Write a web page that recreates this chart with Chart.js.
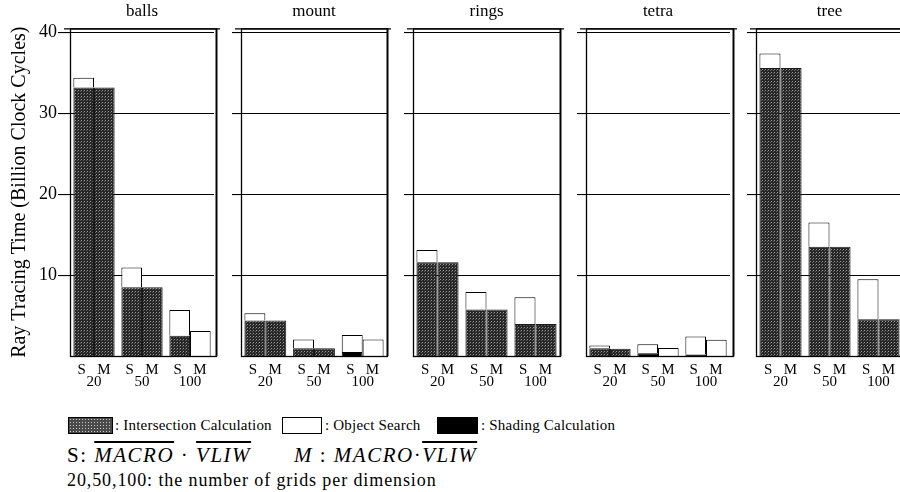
<!DOCTYPE html>
<html><head><meta charset="utf-8">
<script src="https://cdn.jsdelivr.net/npm/chart.js@4.4.1/dist/chart.umd.min.js"></script>
<style>
body{margin:0;width:900px;height:492px;overflow:hidden;background:#fff;position:relative;font-family:"Liberation Serif",serif;color:#000}
canvas{position:absolute;top:0}
.lg{position:absolute;font-size:15px;letter-spacing:0.2px;white-space:nowrap;line-height:17px}
.box{position:absolute;height:17px;box-sizing:border-box;border:1px solid #000}
.ov{text-decoration:overline}
.m{position:absolute;font-size:21px;letter-spacing:1.5px;white-space:nowrap}
</style></head><body>
<canvas id="p0"></canvas><canvas id="p1"></canvas><canvas id="p2"></canvas><canvas id="p3"></canvas><canvas id="p4"></canvas>
<div class="box" style="left:68px;top:417px;width:45px;background-color:#4a4a4a;background-image:radial-gradient(#c8c8c8 0.7px,transparent 1px);background-size:3px 3px"></div>
<div class="lg" style="left:115px;top:417px">: Intersection Calculation</div>
<div class="box" style="left:282px;top:417px;width:40px;background:#fff"></div>
<div class="lg" style="left:325px;top:417px">: Object Search</div>
<div class="box" style="left:437px;top:417px;width:41px;background:#000"></div>
<div class="lg" style="left:481px;top:417px">: Shading Calculation</div>
<div class="m" style="left:67px;top:443px">S: <i class="ov">MACRO</i> · <i class="ov">VLIW</i></div>
<div class="m" style="left:294px;top:443px"><i>M</i> : <i>MACRO</i>·<i class="ov">VLIW</i></div>
<div class="m" style="left:67px;top:470px;font-size:18px;letter-spacing:0.9px">20,50,100: the number of grids per dimension</div>
<script>
const scenes = ['balls','mount','rings','tetra','tree'];
const grids = ['20','50','100'];
const stackLabels = ['S','M'];
const yTicks = [10,20,30,40];
const yTitle = 'Ray Tracing Time (Billion Clock Cycles)';
// values per scene (balls, mount, rings, tetra, tree) x grid (20, 50, 100)
const shadingS      = [0,0,0,      0,0,0.5,     0,0,0,        0,0.35,0.2,  0,0,0];
const intersectionS = [33.2,8.5,2.5, 4.4,0.95,0, 11.6,5.75,3.95, 0.95,0,0, 35.6,13.5,4.55];
const objectS       = [1.2,2.45,3.2, 0.9,1.1,2.1, 1.5,2.15,3.3, 0.35,1.1,2.2, 1.8,3.0,4.95];
const shadingM      = [0,0,0, 0,0,0, 0,0,0, 0,0,0, 0,0,0];
const intersectionM = [33.2,8.5,0, 4.4,0.95,0, 11.6,5.75,3.95, 0.9,0,0, 35.6,13.5,4.55];
const objectM       = [0,0,3.1, 0,0,2.05, 0,0,0, 0,1.0,2.0, 0,0,0];

const FONT = '"Liberation Serif", serif';
// layout (chart-area left, bar-area width, border width)
const areaLeft = [70,241,413,586,756];
const areaW = [144,146,147,144,147];
const borderW = [147,147,148,148,147];

const pc = document.createElement('canvas'); pc.width = 3; pc.height = 3;
const g = pc.getContext('2d');
g.fillStyle = '#262626'; g.fillRect(0,0,3,3);
g.fillStyle = '#9a9a9a'; g.fillRect(0,0,1,1);
g.fillStyle = '#5e5e5e'; g.fillRect(2,1,1,1);
const pattern = g.createPattern(pc,'repeat');

const panelPlugin = {
  id:'panel',
  afterDatasetsDraw(chart, args, opts){
    const {ctx, chartArea:a} = chart;
    ctx.save();
    ctx.strokeStyle = '#000';
    ctx.lineWidth = 1.3;
    ctx.strokeRect(a.left+0.5, a.top+0.5, opts.w-1, a.bottom-a.top);
    ctx.beginPath(); ctx.moveTo(a.left-6, a.top+0.5); ctx.lineTo(a.left+opts.w+3, a.top+0.5); ctx.stroke();
    ctx.lineWidth = 1.8;
    ctx.beginPath(); ctx.moveTo(a.left+opts.w-0.5, a.top); ctx.lineTo(a.left+opts.w-0.5, a.bottom); ctx.stroke();
    ctx.restore();
  }
};

scenes.forEach((name,i)=>{
  const s = i*3, e = s+3;
  const wy = i===0 ? 70 : 12;
  const rp = 10;
  const cv = document.getElementById('p'+i);
  cv.width = wy + areaW[i] + rp; cv.height = 400;
  cv.style.left = (areaLeft[i]-wy)+'px';
  const mk = (label, data, stack, bg, bc) => ({label, data, stack, backgroundColor:bg, borderColor:bc, borderWidth:1, barPercentage:1, categoryPercentage:0.86});
  new Chart(cv, {
    type:'bar',
    data:{
      labels: grids.map(gr=>[stackLabels.join('   '), gr]),
      datasets:[
        mk('Shading Calculation', shadingS.slice(s,e), 'S', '#000', '#000'),
        mk('Intersection Calculation', intersectionS.slice(s,e), 'S', pattern, '#1a1a1a'),
        mk('Object Search', objectS.slice(s,e), 'S', '#fff', '#000'),
        mk('Shading Calculation', shadingM.slice(s,e), 'M', '#000', '#000'),
        mk('Intersection Calculation', intersectionM.slice(s,e), 'M', pattern, '#1a1a1a'),
        mk('Object Search', objectM.slice(s,e), 'M', '#fff', '#000')
      ]
    },
    options:{
      responsive:false, animation:false, devicePixelRatio:1,
      layout:{padding:{left:0,right:rp,top:0,bottom:0}},
      plugins:{
        legend:{display:false}, tooltip:{enabled:false},
        title:{display:true, text:name, fullSize:false, color:'#000', font:{family:FONT,size:17,weight:'normal'}, padding:{top:1,bottom:7}},
        panel:{w:borderW[i]}
      },
      scales:{
        x:{stacked:true, grid:{display:false}, border:{display:false},
           ticks:{color:'#000', font:{family:FONT,size:15,lineHeight:0.8}, padding:0, maxRotation:0, autoSkip:false},
           afterFit:sc=>{sc.height=44;}},
        y:{stacked:true, min:0, max:40.5,
           afterBuildTicks:sc=>{sc.ticks = yTicks.map(v=>({value:v}));},
           ticks:{display:i===0, color:'#000', font:{family:FONT,size:18}, padding:1},
           grid:{color:'#000', lineWidth:1.1, tickLength:i===0?12:9, drawTicks:true},
           border:{display:false},
           title:{display:i===0, text:yTitle, color:'#000', font:{family:FONT,size:20}, padding:{top:8,bottom:0}},
           afterFit:sc=>{sc.width=wy;}}
      }
    },
    plugins:[panelPlugin]
  });
});
</script>
</body></html>
